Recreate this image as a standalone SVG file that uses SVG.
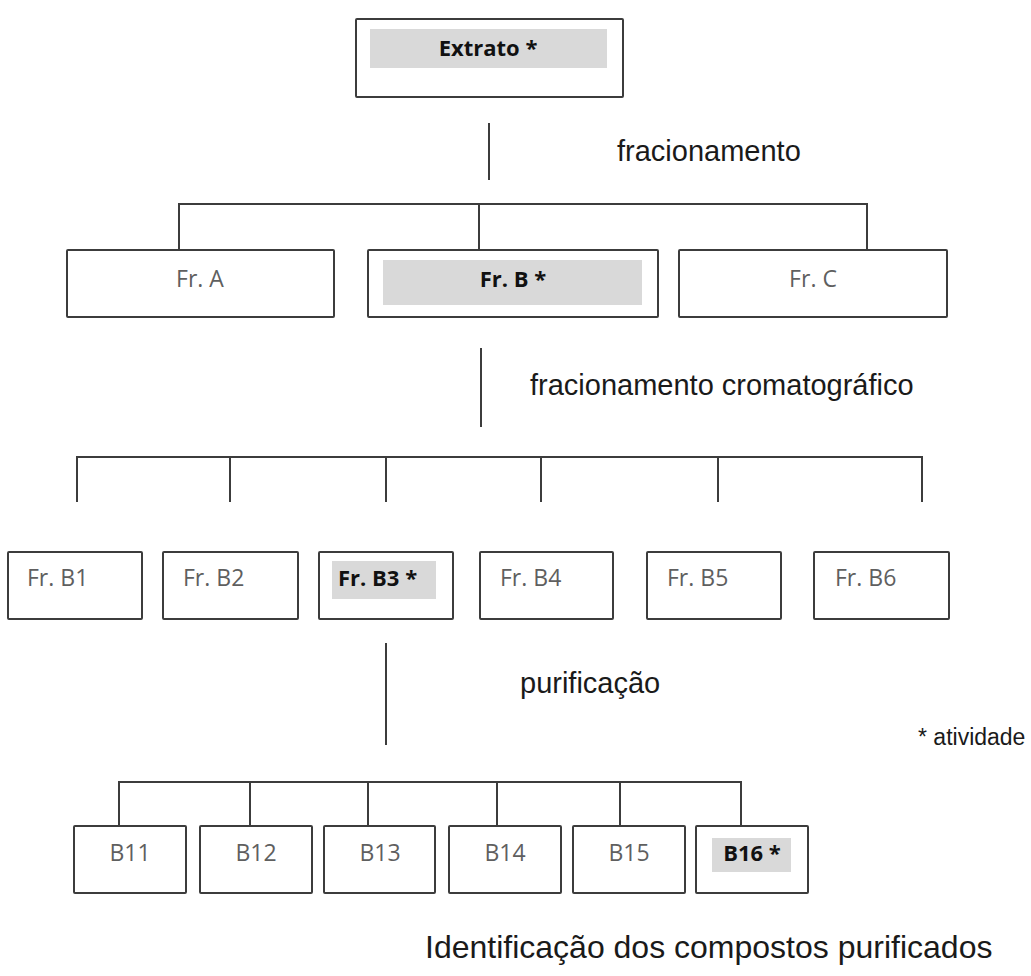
<svg xmlns="http://www.w3.org/2000/svg" width="1031" height="976" viewBox="0 0 1031 976">
<style>
.box{fill:#ffffff;stroke:#3c3c3c;stroke-width:2}
.hl{fill:#d9d9d9}
.lbl{font-family:"Open Sans","Noto Sans",sans-serif;font-size:23px;fill:#5f5f5f}
.bold{font-family:"Open Sans","Noto Sans",sans-serif;font-size:22px;font-weight:bold;fill:#111111}
.cap{font-family:"Liberation Sans",Arial,sans-serif;font-size:29px;fill:#1a1a1a}
.conn{stroke:#3c3c3c;stroke-width:2;fill:none}
.c{text-anchor:middle}
</style>
<rect width="1031" height="976" fill="#ffffff"/>
<g id="connectors">
<line class="conn" x1="489" y1="123" x2="489" y2="180"/>
<path class="conn" d="M179 249 V204 H867 V249"/>
<line class="conn" x1="479" y1="204" x2="479" y2="249"/>
<line class="conn" x1="481" y1="348" x2="481" y2="427"/>
<path class="conn" d="M77 502 V457 H922 V502"/>
<line class="conn" x1="230" y1="457" x2="230" y2="502"/>
<line class="conn" x1="386" y1="457" x2="386" y2="502"/>
<line class="conn" x1="541" y1="457" x2="541" y2="502"/>
<line class="conn" x1="718" y1="457" x2="718" y2="502"/>
<line class="conn" x1="386" y1="643" x2="386" y2="745"/>
<path class="conn" d="M119 826 V782 H741 V826"/>
<line class="conn" x1="250" y1="782" x2="250" y2="826"/>
<line class="conn" x1="368" y1="782" x2="368" y2="826"/>
<line class="conn" x1="497" y1="782" x2="497" y2="826"/>
<line class="conn" x1="620" y1="782" x2="620" y2="826"/>
</g>
<g id="extrato">
<rect class="box" x="356" y="19" width="267" height="78" rx="1"/>
<rect class="hl" x="370" y="29" width="237" height="39"/>
<text class="bold c" x="488" y="56">Extrato *</text>
</g>
<g id="fr-a">
<rect class="box" x="67" y="250" width="267" height="67" rx="1"/>
<text class="lbl c" x="200" y="287">Fr. A</text>
</g>
<g id="fr-b">
<rect class="box" x="368" y="250" width="290" height="67" rx="1"/>
<rect class="hl" x="383" y="260" width="259" height="45"/>
<text class="bold c" x="513" y="287">Fr. B *</text>
</g>
<g id="fr-c">
<rect class="box" x="679" y="250" width="268" height="67" rx="1"/>
<text class="lbl c" x="813" y="287">Fr. C</text>
</g>
<g id="fr-b1">
<rect class="box" x="8" y="552" width="134" height="67" rx="1"/>
<text class="lbl" x="27" y="586">Fr. B1</text>
</g>
<g id="fr-b2">
<rect class="box" x="163" y="552" width="135" height="67" rx="1"/>
<text class="lbl" x="183" y="586">Fr. B2</text>
</g>
<g id="fr-b3">
<rect class="box" x="319" y="552" width="134" height="67" rx="1"/>
<rect class="hl" x="332" y="561" width="104" height="38"/>
<text class="bold" x="338" y="586">Fr. B3 *</text>
</g>
<g id="fr-b4">
<rect class="box" x="480" y="552" width="133" height="67" rx="1"/>
<text class="lbl" x="500" y="586">Fr. B4</text>
</g>
<g id="fr-b5">
<rect class="box" x="647" y="552" width="134" height="67" rx="1"/>
<text class="lbl" x="667" y="586">Fr. B5</text>
</g>
<g id="fr-b6">
<rect class="box" x="814" y="552" width="135" height="67" rx="1"/>
<text class="lbl" x="835" y="586">Fr. B6</text>
</g>
<g id="b11">
<rect class="box" x="74" y="826" width="112" height="67" rx="1"/>
<text class="lbl c" x="130" y="861">B11</text>
</g>
<g id="b12">
<rect class="box" x="200" y="826" width="112" height="67" rx="1"/>
<text class="lbl c" x="256" y="861">B12</text>
</g>
<g id="b13">
<rect class="box" x="324" y="826" width="111" height="67" rx="1"/>
<text class="lbl c" x="380" y="861">B13</text>
</g>
<g id="b14">
<rect class="box" x="449" y="826" width="112" height="67" rx="1"/>
<text class="lbl c" x="505" y="861">B14</text>
</g>
<g id="b15">
<rect class="box" x="573" y="826" width="112" height="67" rx="1"/>
<text class="lbl c" x="629" y="861">B15</text>
</g>
<g id="b16">
<rect class="box" x="696" y="826" width="112" height="67" rx="1"/>
<rect class="hl" x="712" y="838" width="79" height="34"/>
<text class="bold c" x="752" y="861">B16 *</text>
</g>
<g id="labels">
<text class="cap" x="617" y="161">fracionamento</text>
<text class="cap" x="530" y="395">fracionamento cromatográfico</text>
<text class="cap" x="520" y="693">purificação</text>
<text class="cap" x="918" y="745" style="font-size:23px">* atividade</text>
<text class="cap" x="425" y="958" style="font-size:32px">Identificação dos compostos purificados</text>
</g>
</svg>
